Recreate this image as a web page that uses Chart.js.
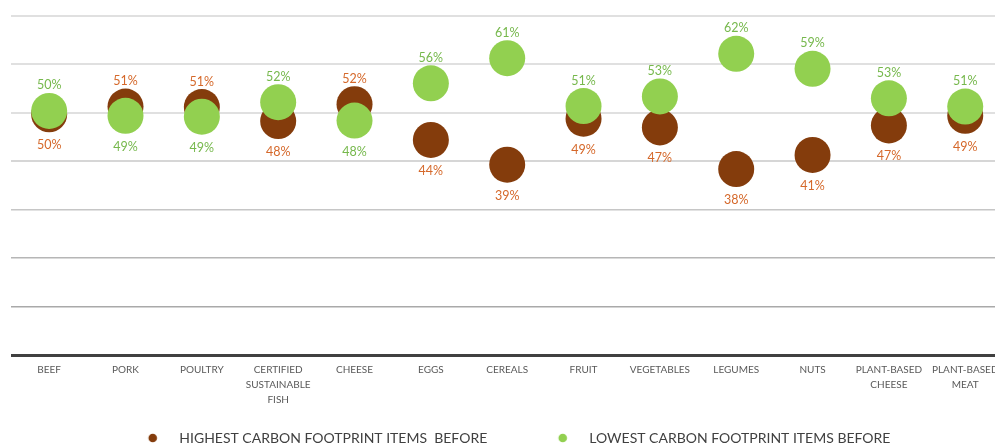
<!DOCTYPE html>
<html>
<head>
<meta charset="utf-8">
<script src="https://cdn.jsdelivr.net/npm/chart.js@4.4.0/dist/chart.umd.min.js"></script>
<style>
  html, body { margin: 0; padding: 0; background: #ffffff; overflow: hidden; width: 995px; height: 444px; }
  #wrap { position: absolute; left: -30px; top: 0; width: 1036px; height: 455px; }
</style>
</head>
<body>
<div id="wrap"><canvas id="chart"></canvas></div>
<script>
// ---- data ----
const categories = ['BEEF', 'PORK', 'POULTRY', ['CERTIFIED', 'SUSTAINABLE', 'FISH'], 'CHEESE', 'EGGS', 'CEREALS',
  'FRUIT', 'VEGETABLES', 'LEGUMES', 'NUTS', ['PLANT-BASED', 'CHEESE'], ['PLANT-BASED', 'MEAT']];
const highestBefore = [49.7, 51.3, 51.2, 48.3, 51.8, 44.4, 39.3, 48.8, 47.0, 38.4, 41.3, 47.4, 49.4];
const lowestBefore  = [50.4, 49.4, 49.2, 52.2, 48.4, 56.1, 61.3, 51.4, 53.4, 62.2, 59.1, 53.0, 51.3];
const seriesNames = ['HIGHEST CARBON FOOTPRINT ITEMS  BEFORE', 'LOWEST CARBON FOOTPRINT ITEMS BEFORE'];
const yTicks = [0, 10, 20, 30, 40, 50, 60, 70];

// ---- style / layout ----
const FONT = 'Lato';
const BROWN = '#843C0C', GREEN = '#92D050';
const BROWN_TEXT = '#D5682A', GREEN_TEXT = '#76B84C';
const SHIFT = 30, CANVAS_W = 1036;
const AREA_L = 11, AREA_R = 1005.5;
const LEG_TEXT1 = 179.3, LEG_TEXT2 = 589.3, LEG_GAP = 26.6;
const LEG_FS = 14, LEG_PAD = 16, BULLET_R = 4.3;

const mctx = document.createElement('canvas').getContext('2d');
mctx.font = LEG_FS + 'px ' + FONT;
const T1 = mctx.measureText(seriesNames[0]).width;
const T2 = mctx.measureText(seriesNames[1]).width;
const legCenter = (2 * LEG_TEXT1 + T1 + T2 + LEG_PAD) / 2;
const padRight = CANVAS_W - AREA_R - SHIFT;
const rightEdge = CANVAS_W - padRight;
const padLeft = 2 * (legCenter + SHIFT) - rightEdge;
const yAxisW = AREA_L + SHIFT - padLeft;
const boxW = LEG_TEXT2 - LEG_TEXT1 - LEG_FS / 2 - T1 - LEG_PAD;
const bulletOff = boxW / 2 + LEG_FS / 2 - LEG_GAP;

function bulletImage(color) {
  const w = 2 * Math.ceil(Math.abs(bulletOff) + BULLET_R + 2);
  const h = 2 * Math.ceil(BULLET_R + 2);
  const c = document.createElement('canvas');
  c.width = w; c.height = h;
  const g = c.getContext('2d');
  g.fillStyle = color;
  g.beginPath();
  g.arc(w / 2 + bulletOff, h / 2, BULLET_R, 0, Math.PI * 2);
  g.fill();
  return c;
}
const bullets = [bulletImage(BROWN), bulletImage(GREEN)];

function gridColor(v) {
  return {0: '#404040', 10: '#a9a9a9', 20: '#b6b6b6', 30: '#c6c6c6', 40: '#d6d6d6'}[v] || '#e0e0e0';
}
function gridWidth(v) {
  if (v === 0) return 3;
  return v >= 40 ? 2 : 1.5;
}

const pointLabels = {
  id: 'pointLabels',
  afterDatasetsDraw(chart) {
    const ctx = chart.ctx;
    const yScale = chart.scales.y, xScale = chart.scales.x;
    ctx.save();
    ctx.font = '12.5px ' + FONT;
    ctx.textAlign = 'center';
    ctx.textBaseline = 'middle';
    categories.forEach((c, i) => {
      const x = xScale.getPixelForValue(i);
      const h = highestBefore[i], l = lowestBefore[i];
      const hAbove = h > l;
      const yh = yScale.getPixelForValue(h), yl = yScale.getPixelForValue(l);
      ctx.fillStyle = BROWN_TEXT;
      ctx.fillText(Math.round(h) + '%', x, hAbove ? yh - 25.5 : yh + 31);
      ctx.fillStyle = GREEN_TEXT;
      ctx.fillText(Math.round(l) + '%', x, hAbove ? yl + 31 : yl - 25.5);
    });
    ctx.restore();
  }
};

new Chart(document.getElementById('chart'), {
  type: 'line',
  data: {
    labels: categories,
    datasets: [
      { label: seriesNames[0], data: highestBefore, order: 2, showLine: false,
        backgroundColor: BROWN, borderColor: BROWN, pointRadius: 18, pointHoverRadius: 18, pointBorderWidth: 0 },
      { label: seriesNames[1], data: lowestBefore, order: 1, showLine: false,
        backgroundColor: GREEN, borderColor: GREEN, pointRadius: 18, pointHoverRadius: 18, pointBorderWidth: 0 }
    ]
  },
  options: {
    responsive: true,
    maintainAspectRatio: false,
    animation: false,
    layout: { autoPadding: false, padding: { left: padLeft, right: padRight, top: 16, bottom: 0 } },
    scales: {
      x: {
        type: 'category',
        offset: true,
        grid: { display: false, drawTicks: false },
        border: { display: false },
        ticks: { color: '#595959', font: { family: FONT, size: 10, lineHeight: 1.5 },
                 padding: 7.5, maxRotation: 0, autoSkip: false }
      },
      y: {
        position: 'left',
        min: yTicks[0],
        max: yTicks[yTicks.length - 1],
        afterBuildTicks: (axis) => { axis.ticks = yTicks.map(v => ({ value: v })); },
        afterFit: (axis) => { axis.width = yAxisW; },
        ticks: { display: false },
        border: { display: false },
        grid: {
          drawTicks: false,
          color: (c) => gridColor(c.tick.value),
          lineWidth: (c) => gridWidth(c.tick.value)
        }
      }
    },
    plugins: {
      tooltip: { enabled: false },
      legend: {
        position: 'bottom',
        labels: {
          usePointStyle: true,
          pointStyleWidth: boxW,
          boxHeight: LEG_FS,
          padding: LEG_PAD,
          color: '#404040',
          font: { family: FONT, size: LEG_FS },
          generateLabels: (chart) => chart.data.datasets.map((ds, i) => ({
            text: ds.label,
            fillStyle: ds.backgroundColor,
            strokeStyle: ds.backgroundColor,
            lineWidth: 0,
            pointStyle: bullets[i],
            fontColor: '#404040',
            hidden: !chart.isDatasetVisible(i),
            datasetIndex: i
          }))
        }
      }
    }
  },
  plugins: [pointLabels]
});
</script>
</body>
</html>
